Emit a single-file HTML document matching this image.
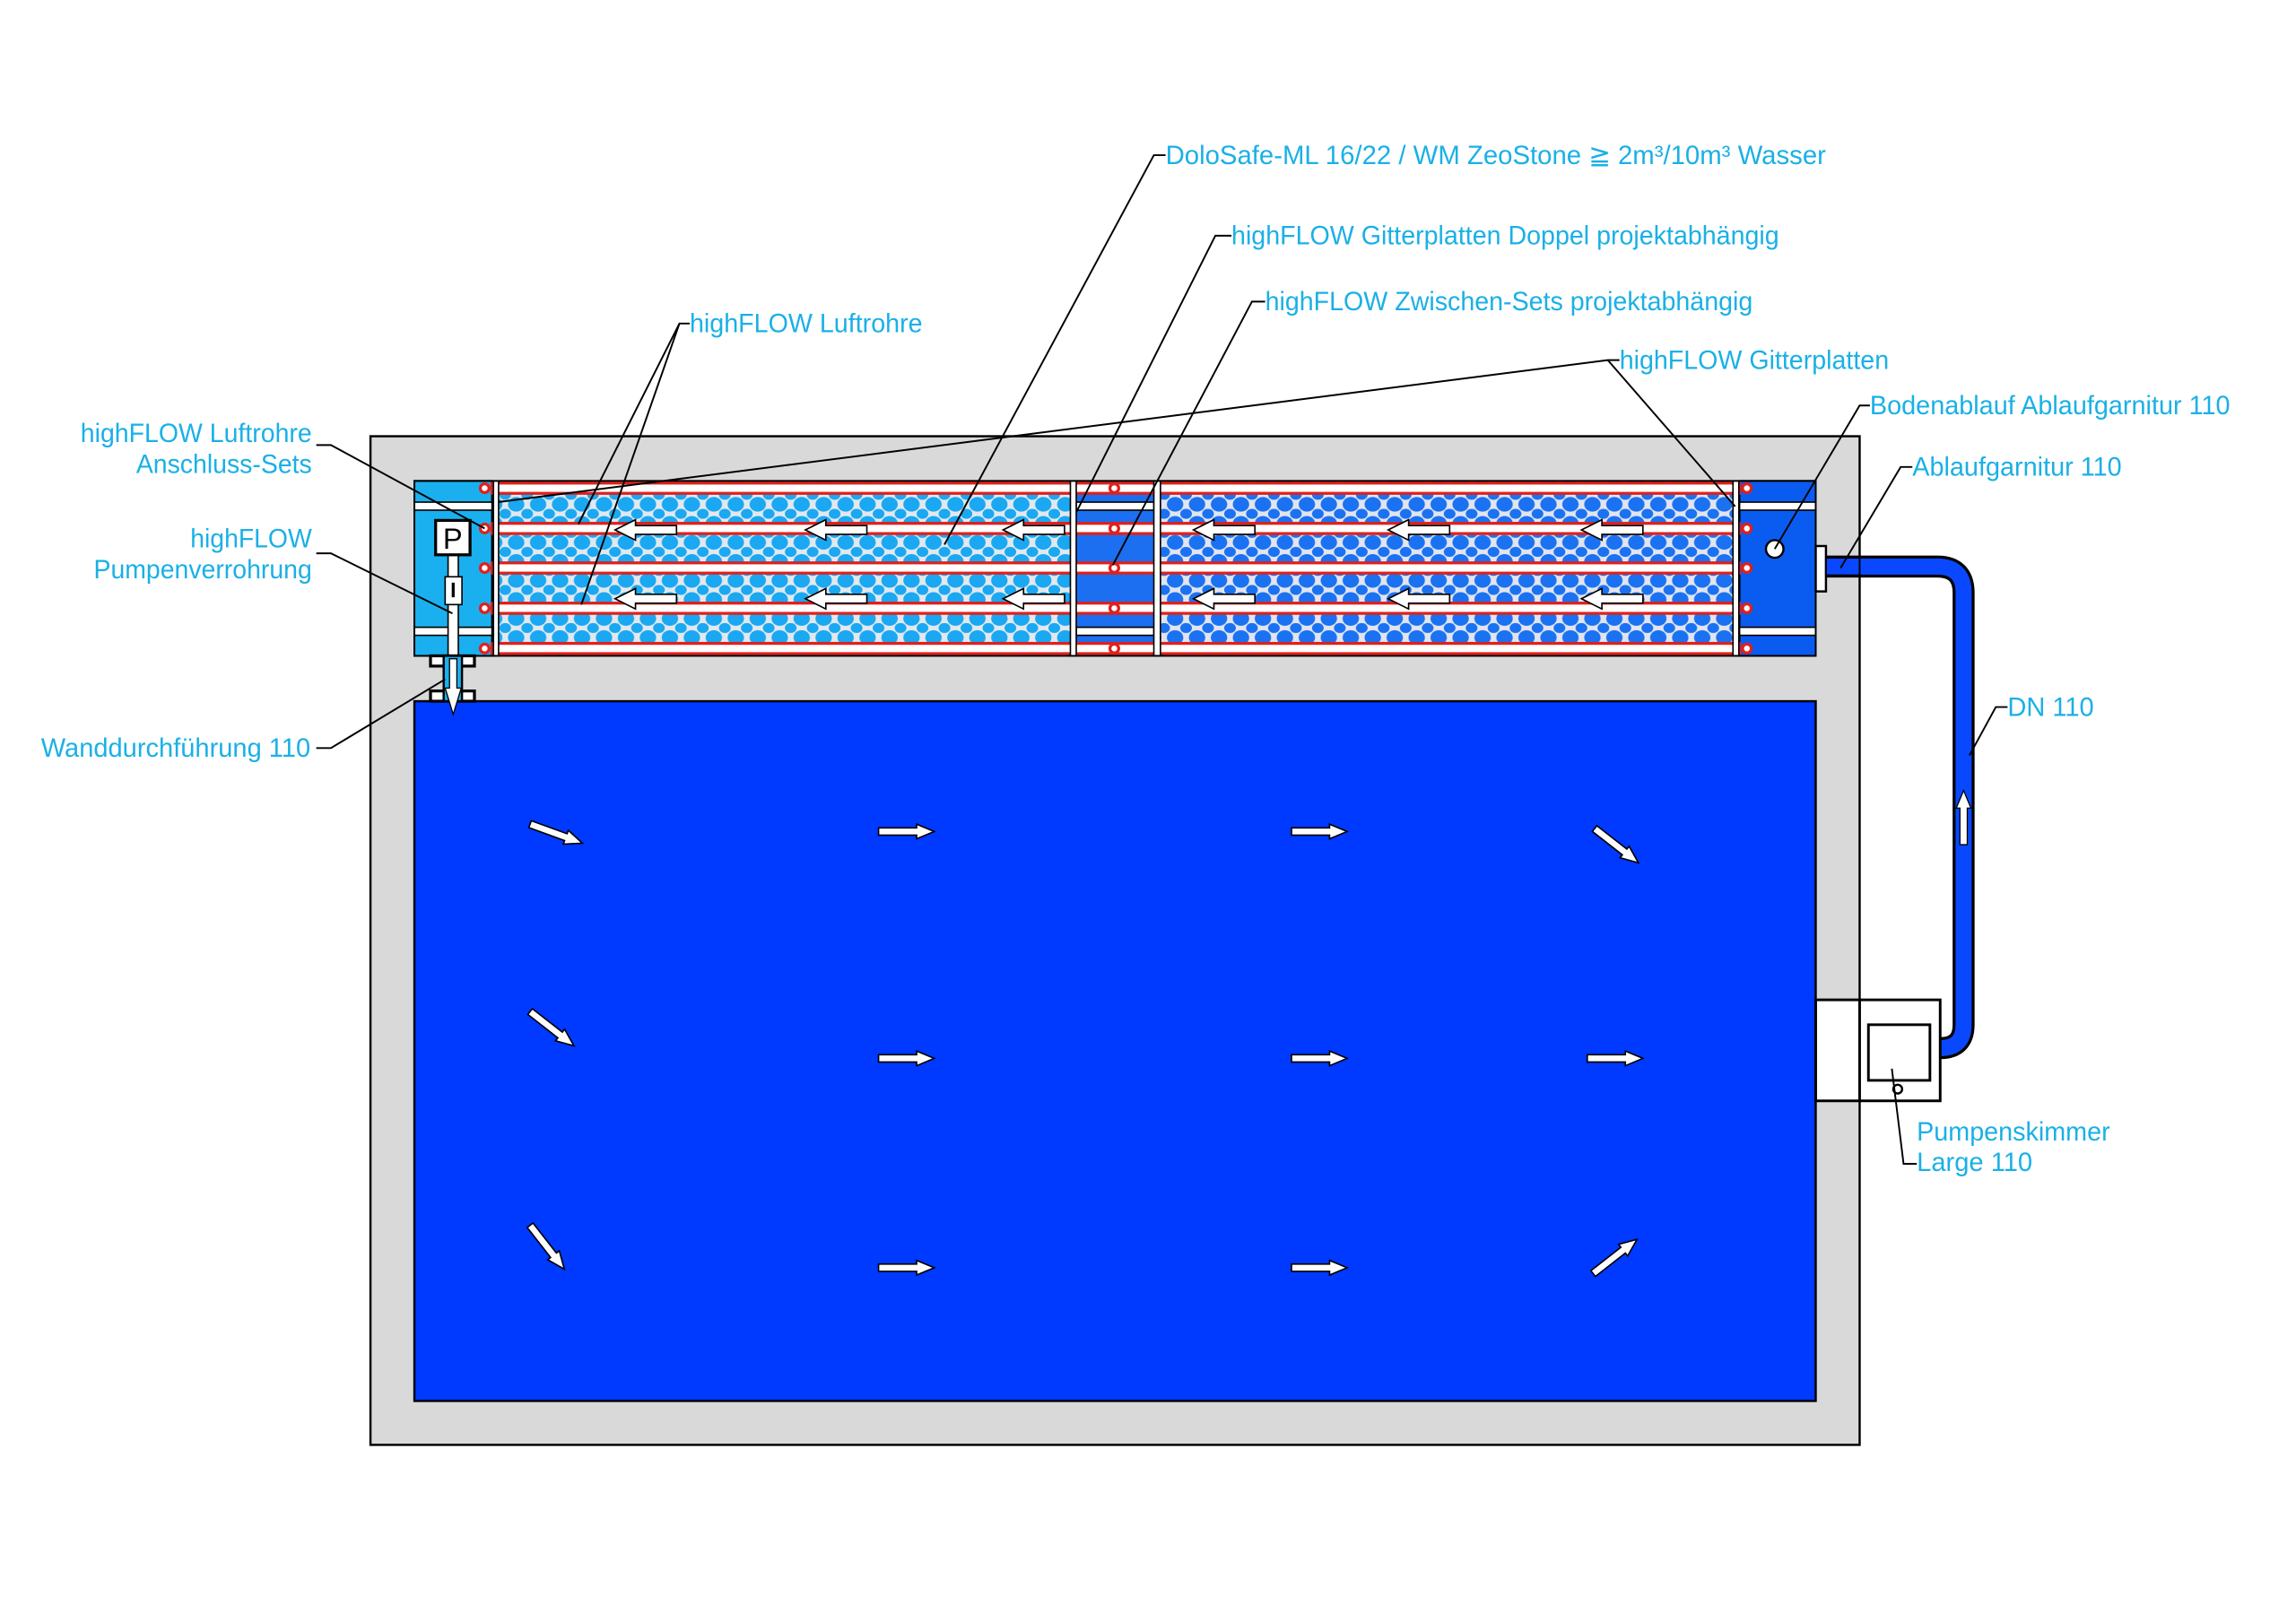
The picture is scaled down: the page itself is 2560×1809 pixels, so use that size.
<!DOCTYPE html>
<html><head><meta charset="utf-8"><style>
html,body{margin:0;padding:0;background:#fff;}
svg{display:block;}
text{font-family:"Liberation Sans Narrow","Liberation Sans",sans-serif;font-size:18px;fill:#1ab0e6;}
</style></head><body>
<svg width="2560" height="1809" viewBox="0 0 1568 1108" xmlns="http://www.w3.org/2000/svg">
<defs>
<pattern id="m1" width="15" height="13" patternUnits="userSpaceOnUse">
<rect width="15" height="13" fill="#e2e8ee"/>
<ellipse cx="7.5" cy="6.5" rx="5.6" ry="5" fill="#1aa8f2"/>
<ellipse cx="0" cy="0" rx="4" ry="3.4" fill="#1aa8f2"/>
<ellipse cx="15" cy="0" rx="4" ry="3.4" fill="#1aa8f2"/>
<ellipse cx="0" cy="13" rx="4" ry="3.4" fill="#1aa8f2"/>
<ellipse cx="15" cy="13" rx="4" ry="3.4" fill="#1aa8f2"/>
</pattern>
<pattern id="m2" width="15" height="13" patternUnits="userSpaceOnUse">
<rect width="15" height="13" fill="#e2e4ee"/>
<ellipse cx="7.5" cy="6.5" rx="5.6" ry="5" fill="#1a72f2"/>
<ellipse cx="0" cy="0" rx="4" ry="3.4" fill="#1a72f2"/>
<ellipse cx="15" cy="0" rx="4" ry="3.4" fill="#1a72f2"/>
<ellipse cx="0" cy="13" rx="4" ry="3.4" fill="#1a72f2"/>
<ellipse cx="15" cy="13" rx="4" ry="3.4" fill="#1a72f2"/>
</pattern>
<g id="la"><polygon points="0,0 14,-7 14,-3 42,-3 42,3 14,3 14,7" fill="#fff" stroke="#000" stroke-width="1"/></g>
<g id="ra"><polygon points="0,-2.5 26,-2.5 26,-5 38,0 26,5 26,2.5 0,2.5" fill="#fff" stroke="#000" stroke-width="1"/></g>
</defs>

<rect x="253" y="298" width="1017" height="689" fill="#d9d9d9" stroke="#000" stroke-width="1.5"/>
<rect x="283" y="479" width="957" height="478" fill="#0039ff" stroke="#000" stroke-width="1.5"/>

<rect x="283" y="328.5" width="53" height="119.5" fill="#1ab0f0" stroke="#000" stroke-width="1.2"/>
<rect x="341" y="328.5" width="390" height="119.5" fill="url(#m1)"/>
<rect x="735" y="328.5" width="53" height="119.5" fill="#1b6ff0"/>
<rect x="793" y="328.5" width="391" height="119.5" fill="url(#m2)"/>
<rect x="1188" y="328.5" width="52" height="119.5" fill="#0a5cf0" stroke="#000" stroke-width="1.2"/>

<g fill="#fff" stroke="#e0201c" stroke-width="2">
<rect x="336" y="330" width="852" height="7"/>
<rect x="336" y="357.5" width="852" height="7"/>
<rect x="336" y="384.5" width="852" height="7"/>
<rect x="336" y="412" width="852" height="7"/>
<rect x="336" y="439.5" width="852" height="7"/>
</g>
<g fill="#fff" stroke="#000" stroke-width="1">
<rect x="283" y="343" width="53" height="5.5"/><rect x="283" y="428.5" width="53" height="5.5"/>
<rect x="735" y="343" width="53" height="5.5"/><rect x="735" y="428.5" width="53" height="5.5"/>
<rect x="1188" y="343" width="52" height="5.5"/><rect x="1188" y="428.5" width="52" height="5.5"/>
</g>
<g fill="#fff" stroke="#000" stroke-width="1">
<rect x="337" y="328.5" width="3.5" height="119.5"/>
<rect x="731" y="328.5" width="4" height="119.5"/>
<rect x="788" y="328.5" width="4.5" height="119.5"/>
<rect x="1183.5" y="328.5" width="4" height="119.5"/>
</g>
<rect x="283" y="328.5" width="957" height="119.5" fill="none" stroke="#000" stroke-width="1.2"/>
<g fill="#fff" stroke="#e0201c" stroke-width="2">
<circle cx="331" cy="333.5" r="3"/><circle cx="331" cy="361" r="3"/><circle cx="331" cy="388" r="3"/><circle cx="331" cy="415.5" r="3"/><circle cx="331" cy="443" r="3"/>
<circle cx="761" cy="333.5" r="3"/><circle cx="761" cy="361" r="3"/><circle cx="761" cy="388" r="3"/><circle cx="761" cy="415.5" r="3"/><circle cx="761" cy="443" r="3"/>
<circle cx="1193" cy="333.5" r="3"/><circle cx="1193" cy="361" r="3"/><circle cx="1193" cy="388" r="3"/><circle cx="1193" cy="415.5" r="3"/><circle cx="1193" cy="443" r="3"/>
</g>
<use href="#la" x="420" y="362"/><use href="#la" x="550" y="362"/><use href="#la" x="685" y="362"/>
<use href="#la" x="420" y="409"/><use href="#la" x="550" y="409"/><use href="#la" x="685" y="409"/>
<use href="#la" x="815" y="362"/><use href="#la" x="948" y="362"/><use href="#la" x="1080" y="362"/>
<use href="#la" x="815" y="409"/><use href="#la" x="948" y="409"/><use href="#la" x="1080" y="409"/>

<rect x="306" y="379" width="7" height="100" fill="#fff" stroke="#000" stroke-width="1"/>
<rect x="297.5" y="355.5" width="23.5" height="23.5" fill="#fff" stroke="#000" stroke-width="2"/>
<text x="309.2" y="375" text-anchor="middle" style="fill:#000;font-size:20px;font-family:'Liberation Sans',sans-serif">P</text>
<rect x="304" y="394" width="11.5" height="19" fill="#fff" stroke="#000" stroke-width="1"/>
<rect x="308.5" y="398" width="2" height="10" fill="#000"/>
<rect x="294" y="448" width="30" height="7" fill="#fff" stroke="#000" stroke-width="2"/>
<rect x="294" y="472" width="30" height="7" fill="#fff" stroke="#000" stroke-width="2"/>
<rect x="303" y="448" width="12.5" height="31" fill="#1ab0f0" stroke="#000" stroke-width="1.5"/>
<polygon points="307,450 312,450 312,470 315,470 309.5,488 304,470 307,470" fill="#fff" stroke="#000" stroke-width="0.8"/>

<circle cx="1212" cy="375" r="6" fill="#fff" stroke="#000" stroke-width="1.5"/>
<path d="M1240 387 H1323 Q1341 387 1341 405 V700 Q1341 716 1325 716" fill="none" stroke="#000" stroke-width="15"/>
<path d="M1240 387 H1323 Q1341 387 1341 405 V700 Q1341 716 1325 716" fill="none" stroke="#0a48ff" stroke-width="11"/>
<rect x="1240" y="373" width="7" height="31" fill="#fff" stroke="#000" stroke-width="1.5"/>
<rect x="1247" y="381" width="23" height="12" fill="#0a48ff" stroke="#000" stroke-width="1.2"/>
<polygon points="1341,577 1341,552 1338.5,552 1343.5,540 1348.5,552 1346,552 1346,577" fill="#fff" stroke="#000" stroke-width="0.8" transform="translate(-2.5,0)"/>

<rect x="1240" y="683" width="30" height="69" fill="#fff" stroke="#000" stroke-width="1.8"/>
<rect x="1270" y="683" width="55" height="69" fill="#fff" stroke="#000" stroke-width="1.8"/>
<rect x="1276" y="700" width="42" height="38" fill="#fff" stroke="#000" stroke-width="1.8"/>
<circle cx="1296" cy="744" r="3" fill="#fff" stroke="#000" stroke-width="1.5"/>

<use href="#ra" transform="translate(362,563) rotate(20)"/>
<use href="#ra" transform="translate(600,568)"/>
<use href="#ra" transform="translate(882,568)"/>
<use href="#ra" transform="translate(1089,566) rotate(38)"/>
<use href="#ra" transform="translate(362,691) rotate(38)"/>
<use href="#ra" transform="translate(600,723)"/>
<use href="#ra" transform="translate(882,723)"/>
<use href="#ra" transform="translate(1084,723)"/>
<use href="#ra" transform="translate(362,837) rotate(52)"/>
<use href="#ra" transform="translate(600,866)"/>
<use href="#ra" transform="translate(882,866)"/>
<use href="#ra" transform="translate(1088,870) rotate(-38)"/>

<g stroke="#000" stroke-width="1.2" fill="none">
<polyline points="796,106 788,106 645,372"/>
<polyline points="841,161 830,161 735,350"/>
<polyline points="864,206 855,206 760,386"/>
<polyline points="1106,246 1098,246 340,343"/>
<polyline points="1098,246 1185,346"/>
<polyline points="471,221 464,221 395,358"/>
<polyline points="464,221 397,413"/>
<polyline points="1277,277 1270,277 1212,375"/>
<polyline points="1306,319 1298,319 1257,388"/>
<polyline points="1371,483 1363,483 1345,516"/>
<polyline points="1309,795 1300,795 1292,730"/>
<polyline points="216,304 226,304 331,361"/>
<polyline points="216,378 226,378 309,419"/>
<polyline points="216,511 226,511 304,464"/>
</g>

<text x="796" y="112" textLength="451" lengthAdjust="spacingAndGlyphs">DoloSafe-ML 16/22  /  WM ZeoStone ≧ 2m³/10m³ Wasser</text>
<text x="841" y="167" textLength="374" lengthAdjust="spacingAndGlyphs">highFLOW Gitterplatten Doppel projektabhängig</text>
<text x="864" y="212" textLength="333" lengthAdjust="spacingAndGlyphs">highFLOW Zwischen-Sets projektabhängig</text>
<text x="1106" y="252" textLength="184" lengthAdjust="spacingAndGlyphs">highFLOW Gitterplatten</text>
<text x="471" y="227" textLength="159" lengthAdjust="spacingAndGlyphs">highFLOW Luftrohre</text>
<text x="1277" y="283" textLength="246" lengthAdjust="spacingAndGlyphs">Bodenablauf Ablaufgarnitur 110</text>
<text x="1306" y="325" textLength="143" lengthAdjust="spacingAndGlyphs">Ablaufgarnitur 110</text>
<text x="1371" y="489" textLength="59" lengthAdjust="spacingAndGlyphs">DN 110</text>
<text x="1309" y="779" textLength="132" lengthAdjust="spacingAndGlyphs">Pumpenskimmer</text>
<text x="1309" y="800" textLength="79" lengthAdjust="spacingAndGlyphs">Large 110</text>
<text x="55" y="302" textLength="158" lengthAdjust="spacingAndGlyphs">highFLOW Luftrohre</text>
<text x="93" y="323" textLength="120" lengthAdjust="spacingAndGlyphs">Anschluss-Sets</text>
<text x="130" y="374" textLength="83" lengthAdjust="spacingAndGlyphs">highFLOW</text>
<text x="64" y="395" textLength="149" lengthAdjust="spacingAndGlyphs">Pumpenverrohrung</text>
<text x="28" y="517" textLength="184" lengthAdjust="spacingAndGlyphs">Wanddurchführung 110</text>
</svg>
</body></html>
